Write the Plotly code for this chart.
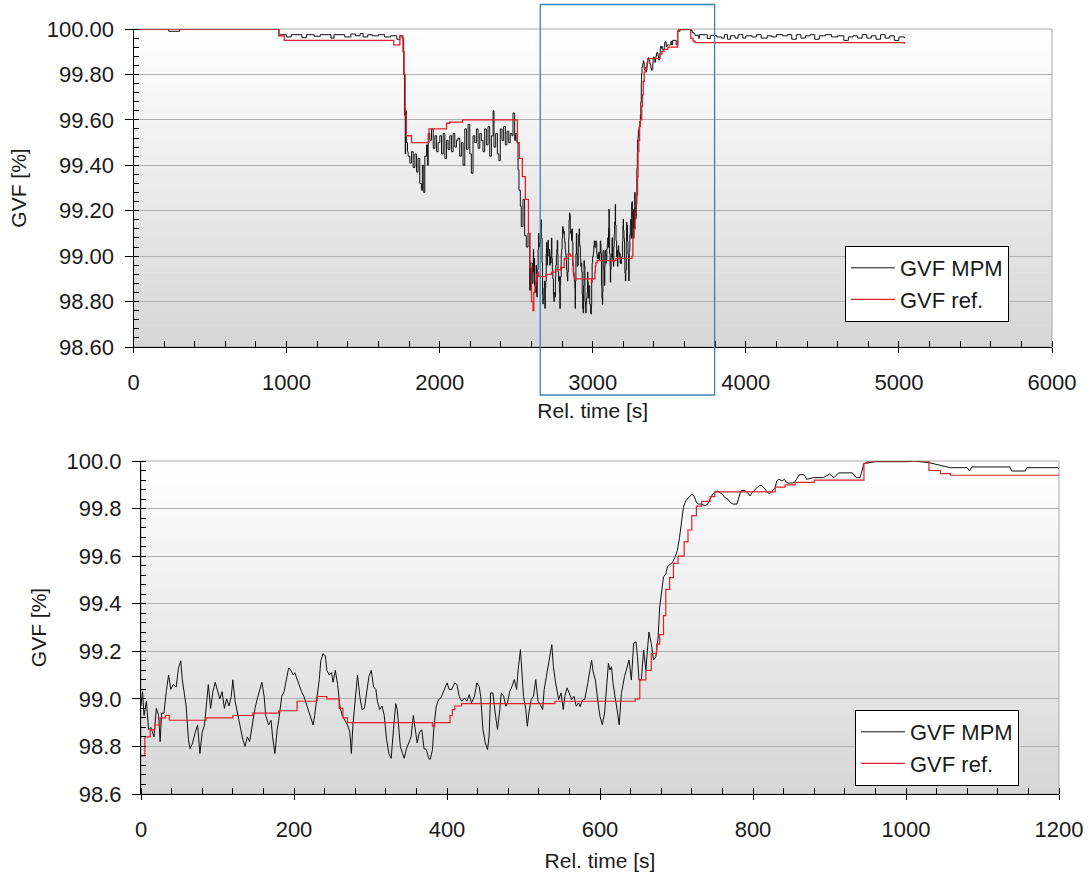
import plotly.graph_objects as go

# ---------------- data ----------------
ZOOM_START = 2610  # s : where the lower (zoomed) chart begins in the overview

# Lower chart (zoomed window, relative time 0..1200 s)
zoom_t_mpm = [0, 2, 4, 7, 10, 13, 17, 20, 23, 25, 27, 30, 33, 36, 39, 42, 46, 49, 52, 54,
              59, 62, 64, 67, 71, 74, 77, 80, 83, 86, 88, 91, 94, 97, 100, 103, 106, 109, 112, 115,
              118, 120, 123, 126, 129, 133, 136, 139, 142, 146, 149, 152, 155, 158, 161, 163, 167, 170, 172, 175,
              178, 180, 184, 187, 190, 193, 196, 199, 201, 204, 207, 210, 213, 216, 219, 222, 225, 227, 230, 233,
              235, 238, 241, 243, 246, 249, 251, 254, 257, 260, 263, 267, 270, 273, 275, 277, 280, 283, 286, 289,
              292, 295, 298, 301, 304, 307, 309, 312, 315, 318, 321, 324, 327, 330, 333, 335, 339, 342, 344, 347,
              350, 353, 356, 358, 361, 364, 367, 370, 373, 376, 378, 381, 383, 386, 389, 392, 394, 397, 400, 403,
              406, 410, 413, 416, 419, 423, 426, 429, 432, 436, 439, 442, 444, 447, 450, 453, 455, 457, 460, 463,
              466, 469, 471, 474, 477, 479, 482, 485, 488, 491, 493, 496, 498, 500, 503, 505, 507, 510, 513, 516,
              519, 522, 525, 527, 530, 533, 537, 539, 542, 546, 549, 552, 554, 557, 560, 563, 566, 569, 572, 574,
              577, 580, 584, 587, 589, 591, 594, 597, 600, 603, 606, 609, 611, 613, 615, 617, 620, 623, 625, 628,
              632, 635, 638, 641, 644, 647, 649, 651, 654, 657, 660, 662, 664, 667, 670, 673, 676, 678, 681, 683,
              686, 688, 692, 695, 698, 701, 704, 707, 709, 712, 716, 720, 723, 726, 729, 733, 737, 741, 744, 747,
              750, 754, 757, 760, 763, 767, 770, 774, 779, 782, 784, 787, 790, 793, 796, 799, 803, 806, 810, 812,
              816, 819, 822, 825, 829, 831, 834, 838, 841, 844, 847, 851, 854, 857, 860, 864, 867, 870, 874, 879,
              885, 892, 900, 906, 912, 930, 935, 940, 945, 960, 1000, 1010, 1030, 1040, 1050, 1058, 1080, 1083, 1086, 1136,
              1138, 1156, 1158, 1198, 1200]
zoom_mpm = [98.97, 99.03, 98.93, 98.99, 98.87, 98.88, 98.84, 98.96, 98.93, 98.82, 98.94, 98.94, 99.03, 99.10, 99.04, 99.06, 99.05, 99.13, 99.16, 99.08,
            98.97, 98.83, 98.79, 98.81, 98.86, 98.89, 98.77, 98.86, 98.89, 99.01, 99.06, 98.96, 99.03, 99.07, 99.03, 99.00, 99.03, 98.96, 99.00, 98.97,
            99.01, 99.08, 98.99, 98.94, 98.90, 98.83, 98.80, 98.84, 98.82, 98.91, 98.96, 99.00, 99.03, 99.07, 99.01, 98.93, 98.89, 98.91, 98.84, 98.77,
            98.87, 98.91, 99.01, 99.03, 99.08, 99.13, 99.12, 99.10, 99.11, 99.08, 99.06, 99.03, 99.01, 98.98, 98.94, 98.91, 98.89, 98.93, 99.01, 99.08,
            99.16, 99.19, 99.18, 99.12, 99.10, 99.11, 99.07, 99.12, 99.06, 98.97, 98.93, 98.91, 98.89, 98.86, 98.77, 98.89, 99.01, 99.10, 99.01, 98.955,
            98.96, 99.04, 99.095, 99.12, 99.05, 99.04, 98.99, 98.955, 98.97, 98.93, 98.83, 98.77, 98.75, 98.87, 98.98, 98.955, 98.80, 98.77, 98.75, 98.79,
            98.815, 98.84, 98.93, 98.885, 98.815, 98.86, 98.87, 98.79, 98.787, 98.75, 98.745, 98.787, 98.885, 98.97, 98.997, 99.004, 99.018, 99.046, 99.067, 99.039,
            99.039, 99.067, 99.06, 99.011, 98.99, 99.004, 98.99, 99.018, 98.983, 99.011, 99.067, 99.053, 99.011, 98.871, 98.815, 98.787, 98.843, 99.025, 99.025, 98.941,
            98.871, 98.955, 99.025, 99.011, 98.969, 98.983, 99.032, 99.053, 99.081, 99.039, 99.123, 99.207, 99.123, 99.011, 98.955, 98.885, 98.941, 98.997, 99.011, 99.081,
            98.99, 98.976, 98.955, 99.039, 99.095, 99.151, 99.228, 99.137, 99.067, 98.997, 99.025, 98.955, 99.011, 99.046, 99.018, 98.997, 99.011, 98.969, 98.983, 98.967,
            98.995, 98.998, 99.065, 99.135, 99.163, 99.114, 99.079, 98.995, 98.926, 98.891, 98.940, 99.065, 99.149, 99.121, 99.135, 99.065, 99.009, 98.940, 98.891, 99.023,
            99.093, 99.135, 99.163, 99.079, 99.233, 99.240, 99.177, 99.079, 99.079, 99.205, 99.121, 99.205, 99.281, 99.233, 99.163, 99.177, 99.260, 99.386, 99.456, 99.512,
            99.526, 99.554, 99.567, 99.574, 99.595, 99.623, 99.679, 99.763, 99.805, 99.833, 99.847, 99.860, 99.853, 99.826, 99.819, 99.819, 99.812, 99.819, 99.840, 99.860,
            99.867, 99.874, 99.867, 99.860, 99.847, 99.840, 99.826, 99.819, 99.819, 99.847, 99.874, 99.877, 99.874, 99.867, 99.853, 99.867, 99.881, 99.891, 99.898, 99.895,
            99.881, 99.867, 99.863, 99.874, 99.888, 99.916, 99.923, 99.916, 99.923, 99.909, 99.907, 99.908, 99.909, 99.923, 99.941, 99.944, 99.941, 99.923, 99.927, 99.930,
            99.930, 99.930, 99.945, 99.93, 99.95, 99.95, 99.93, 99.93, 99.99, 99.997, 99.997, 100.0, 99.993, 99.985, 99.98, 99.972, 99.972, 99.958, 99.975, 99.975,
            99.958, 99.958, 99.972, 99.972, 99.965]

zoom_t_ref = [0, 5, 12, 18, 25, 32, 37, 85, 120, 146, 180, 204, 230, 243, 259, 264, 270, 381, 384, 404,
              407, 410, 419, 541, 646, 652, 660, 667, 674, 678, 683, 686, 691, 696, 702, 710, 715, 720, 726, 733,
              744, 750, 829, 842, 855, 880, 945, 950, 1030, 1045, 1058, 1200]
zoom_ref = [98.76, 98.84, 98.87, 98.89, 98.92, 98.93, 98.91, 98.92, 98.93, 98.94, 98.95, 98.99, 99.01, 99.00, 98.96, 98.92, 98.90, 98.885, 98.90, 98.93,
            98.955, 98.97, 98.98, 98.99, 99.00, 99.08, 99.12, 99.19, 99.23, 99.27, 99.35, 99.46, 99.51, 99.57, 99.60, 99.66, 99.71, 99.77, 99.81, 99.83,
            99.85, 99.87, 99.89, 99.90, 99.91, 99.92, 99.99, 100.0, 99.96, 99.947, 99.94, 99.94]

# Upper chart, part before the zoomed window
pre_t_mpm = [0, 230, 300, 950, 960, 1000, 1030, 1100, 1130, 1180, 1220, 1290, 1310, 1380, 1420, 1450, 1480, 1500, 1530, 1560,
             1600, 1640, 1680, 1720, 1740, 1755, 1765, 1770, 1775, 1778, 1783, 1790, 1794, 1805, 1816, 1827, 1838, 1849, 1859, 1870,
             1881, 1887, 1896, 1903, 1914, 1920, 1925, 1936, 1947, 1958, 1969, 1980, 1990, 2001, 2012, 2023, 2034, 2045, 2055, 2066,
             2077, 2088, 2099, 2110, 2120, 2131, 2142, 2153, 2164, 2175, 2186, 2197, 2207, 2218, 2229, 2240, 2251, 2262, 2272, 2283,
             2294, 2305, 2316, 2327, 2338, 2349, 2355, 2366, 2377, 2387, 2396, 2407, 2418, 2429, 2440, 2451, 2461, 2472, 2479, 2490,
             2496, 2505, 2512, 2518, 2527, 2533, 2544, 2555, 2566, 2577, 2588, 2594, 2605]
pre_mpm = [100.0, 99.99, 100.0, 99.97, 99.975, 99.965, 99.975, 99.962, 99.975, 99.968, 99.975, 99.96, 99.975, 99.965, 99.978, 99.97, 99.98, 99.965, 99.975, 99.97,
           99.975, 99.965, 99.97, 99.955, 99.97, 99.96, 99.80, 99.62, 99.45, 99.64, 99.50, 99.46, 99.44, 99.41, 99.46, 99.39, 99.45, 99.37, 99.43, 99.32,
           99.29, 99.40, 99.28, 99.44, 99.49, 99.40, 99.54, 99.51, 99.56, 99.475, 99.53, 99.46, 99.50, 99.53, 99.45, 99.54, 99.43, 99.51, 99.47, 99.53,
           99.46, 99.54, 99.48, 99.51, 99.52, 99.44, 99.50, 99.40, 99.56, 99.47, 99.58, 99.45, 99.365, 99.53, 99.50, 99.56, 99.475, 99.54, 99.51, 99.46,
           99.56, 99.49, 99.57, 99.44, 99.53, 99.64, 99.48, 99.54, 99.45, 99.42, 99.56, 99.51, 99.57, 99.49, 99.55, 99.50, 99.54, 99.53, 99.63, 99.51,
           99.54, 99.50, 99.38, 99.29, 99.22, 99.13, 99.25, 99.09, 99.04, 99.10, 98.85, 98.97, 98.88]

pre_t_ref = [0, 950, 985, 1700, 1740, 1760, 1768, 1775, 1782, 1816, 1930, 2045, 2066, 2150, 2508, 2520, 2540, 2560, 2580, 2590,
             2600]
pre_ref = [100.0, 99.97, 99.95, 99.93, 99.97, 99.90, 99.80, 99.62, 99.53, 99.50, 99.56, 99.585, 99.59, 99.60, 99.50, 99.43, 99.35, 99.25, 99.10, 98.95,
           98.80]

# Upper chart, part after the zoomed window
post_t_mpm = [3840, 3860, 3880, 3900, 3930, 3950, 3980, 4000, 4040, 4070, 4100, 4140, 4170, 4200, 4240, 4270, 4300, 4330, 4360, 4390,
              4420, 4450, 4480, 4520, 4560, 4600, 4640, 4670, 4700, 4730, 4760, 4790, 4820, 4850, 4880, 4910, 4940, 4970, 5000, 5036]
post_mpm = [99.96, 99.975, 99.955, 99.97, 99.96, 99.975, 99.96, 99.97, 99.965, 99.975, 99.96, 99.97, 99.965, 99.975, 99.97, 99.975, 99.955, 99.975, 99.96, 99.97,
            99.975, 99.955, 99.97, 99.975, 99.965, 99.97, 99.95, 99.965, 99.97, 99.96, 99.975, 99.96, 99.97, 99.955, 99.975, 99.96, 99.97, 99.95, 99.965, 99.96]
post_t_ref = [5036]
post_ref = [99.935]

# axis tick settings
top_x_ticks = [0, 1000, 2000, 3000, 4000, 5000, 6000]
top_y_ticks = [98.6, 98.8, 99.0, 99.2, 99.4, 99.6, 99.8, 100.0]
bot_x_ticks = [0, 200, 400, 600, 800, 1000, 1200]
bot_y_ticks = [98.6, 98.8, 99.0, 99.2, 99.4, 99.6, 99.8, 100.0]
zoom_box_x = [2657, 3796]

# ---------------- assemble overview series ----------------
over_t_mpm = pre_t_mpm + [ZOOM_START + t for t in zoom_t_mpm] + post_t_mpm
over_mpm = pre_mpm + zoom_mpm + post_mpm
over_t_ref = pre_t_ref + [ZOOM_START + t for t in zoom_t_ref] + post_t_ref
over_ref = pre_ref + zoom_ref + post_ref

W, H = 1089, 878
FONT = "Arial, Liberation Sans, sans-serif"
TXT = "#1a1a1a"
BLACK_LINE = "#111111"
RED_LINE = "#e0202a"
TICK_FS = 22
TITLE_FS = 21

fig = go.Figure()

fig.add_trace(go.Scatter(x=over_t_mpm, y=over_mpm, mode="lines", name="GVF MPM",
                         line=dict(color=BLACK_LINE, width=1, shape="hv"),
                         xaxis="x", yaxis="y", legend="legend"))
fig.add_trace(go.Scatter(x=over_t_ref, y=over_ref, mode="lines", name="GVF ref.",
                         line=dict(color=RED_LINE, width=1.3, shape="hv"),
                         xaxis="x", yaxis="y", legend="legend"))
fig.add_trace(go.Scatter(x=zoom_t_mpm, y=zoom_mpm, mode="lines", name="GVF MPM",
                         line=dict(color=BLACK_LINE, width=1),
                         xaxis="x2", yaxis="y2", legend="legend2"))
fig.add_trace(go.Scatter(x=zoom_t_ref, y=zoom_ref, mode="lines", name="GVF ref.",
                         line=dict(color=RED_LINE, width=1.2, shape="hv"),
                         xaxis="x2", yaxis="y2", legend="legend2"))

def px_x(p):
    return p / W

def px_y(p):
    return 1 - p / H

top_xdom = [px_x(133.5), px_x(1052)]
top_ydom = [px_y(347), px_y(29)]
bot_xdom = [px_x(141), px_x(1059)]
bot_ydom = [px_y(794), px_y(461)]

def xaxis(dom, rng, ticks, minor_dt, anchor, standoff):
    return dict(domain=dom, range=rng, tickvals=ticks, anchor=anchor, automargin=False,
                showgrid=False, zeroline=False, showline=True, linecolor="black", linewidth=1,
                ticks="outside", ticklen=5, tickcolor="black",
                minor=dict(dtick=minor_dt, tick0=0, ticks="inside", ticklen=6, tickcolor="black", showgrid=False),
                tickfont=dict(family=FONT, size=TICK_FS, color=TXT), ticklabelstandoff=11,
                title=dict(text="Rel. time [s]", font=dict(family=FONT, size=TITLE_FS, color=TXT), standoff=standoff))

def yaxis(dom, rng, ticks, fmt, minor_dt, anchor, standoff):
    return dict(domain=dom, range=rng, tickvals=ticks, tickformat=fmt, anchor=anchor, automargin=False,
                showgrid=True, gridcolor="#b0b0b0", gridwidth=1, zeroline=False,
                showline=True, linecolor="black", linewidth=1,
                ticks="outside", ticklen=8, tickcolor="black",
                minor=dict(dtick=minor_dt, tick0=98.6, ticks="inside", ticklen=5, tickcolor="black", showgrid=False),
                tickfont=dict(family=FONT, size=TICK_FS, color=TXT), ticklabelstandoff=6,
                title=dict(text="GVF [%]", font=dict(family=FONT, size=TITLE_FS, color=TXT), standoff=standoff))

shapes = []
def gradient(xref, yref, n=60, top=(255, 255, 255), bottom=(214, 214, 214)):
    out = []
    for i in range(n):
        f = (i + 0.5) / n
        c = [round(bottom[k] + (top[k] - bottom[k]) * f) for k in range(3)]
        out.append(dict(type="rect", xref=xref, yref=yref, x0=0, x1=1,
                        y0=i / n, y1=(i + 1) / n + 0.002, line=dict(width=0),
                        fillcolor="rgb(%d,%d,%d)" % tuple(c), layer="below"))
    out.append(dict(type="rect", xref=xref, yref=yref, x0=0, x1=1, y0=0, y1=1,
                    line=dict(color="#a8a8a8", width=1), fillcolor="rgba(0,0,0,0)", layer="below"))
    return out

shapes += gradient("x domain", "y domain")
shapes += gradient("x2 domain", "y2 domain")
shapes.append(dict(type="rect", xref="x", yref="paper", x0=zoom_box_x[0], x1=zoom_box_x[1],
                   y0=px_y(395), y1=px_y(4.5), line=dict(color="#3a82b4", width=1.3),
                   fillcolor="rgba(0,0,0,0)", layer="above"))

legend_style = dict(bgcolor="white", bordercolor="black", borderwidth=1,
                    font=dict(family=FONT, size=TICK_FS, color=TXT), xanchor="left", yanchor="top",
                    itemwidth=44, tracegroupgap=0)

fig.update_layout(
    width=W, height=H, margin=dict(l=0, r=0, t=0, b=0, autoexpand=False),
    paper_bgcolor="white", plot_bgcolor="rgba(0,0,0,0)",
    showlegend=True,
    xaxis=xaxis(top_xdom, [0, 6000], top_x_ticks, 200, "y", 8),
    yaxis=yaxis(top_ydom, [98.6, 100.0], top_y_ticks, ".2f", 0.04, "x", 14),
    xaxis2=xaxis(bot_xdom, [0, 1200], bot_x_ticks, 40, "y2", 11),
    yaxis2=yaxis(bot_ydom, [98.6, 100.0], bot_y_ticks, ".1f", 0.04, "x2", 14),
    legend=dict(x=px_x(845), y=px_y(246), **legend_style),
    legend2=dict(x=px_x(855), y=px_y(710), **legend_style),
    shapes=shapes,
)

fig.write_html("out.html")
